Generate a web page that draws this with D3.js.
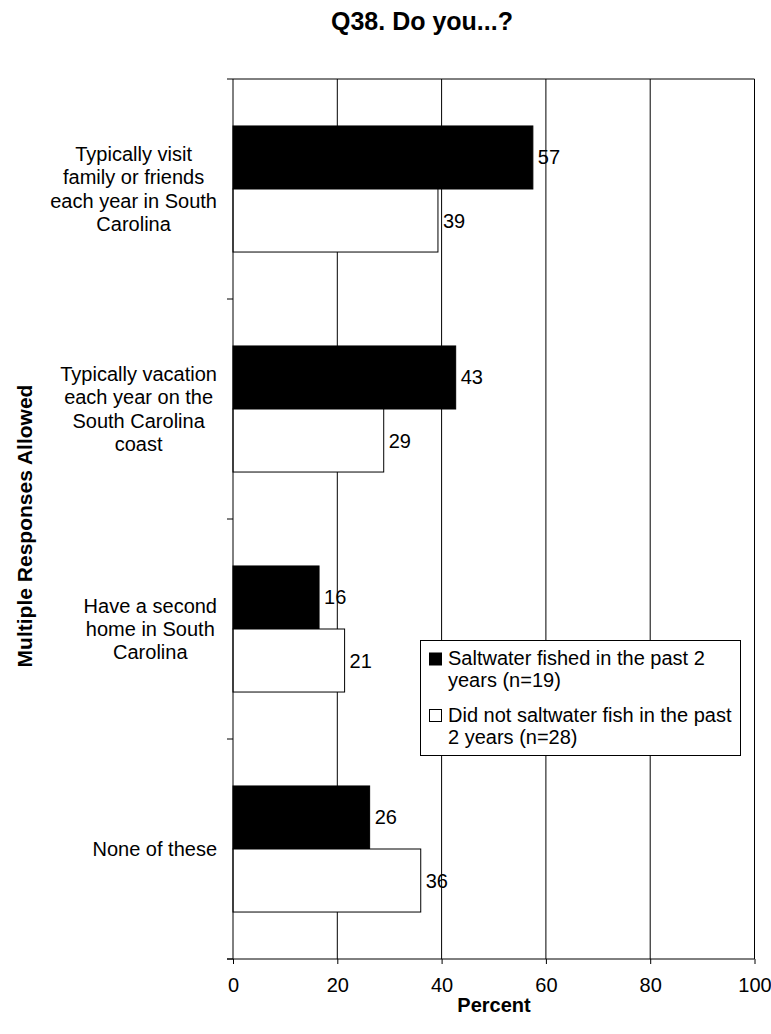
<!DOCTYPE html>
<html>
<head>
<meta charset="utf-8">
<script src="https://cdn.jsdelivr.net/npm/d3@7"></script>
<style>
  html, body { margin: 0; padding: 0; background: #fff; }
  svg text { font-family: "Liberation Sans", Arial, sans-serif; fill: #000; }
</style>
</head>
<body>
<svg id="chart" width="771" height="1034"></svg>
<script>
const categories = [
  ["Typically visit", "family or friends", "each year in South", "Carolina"],
  ["Typically vacation", "each year on the", "South Carolina", "coast"],
  ["Have a second", "home in South", "Carolina"],
  ["None of these"]
];
const seriesNames = [
  "Saltwater fished in the past 2 years (n=19)",
  "Did not saltwater fish in the past 2 years (n=28)"
];
const saltwaterFished = [57.5, 42.7, 16.5, 26.2];
const didNotFish = [39.3, 28.9, 21.4, 36.0];
const valueLabels = [[57, 43, 16, 26], [39, 29, 21, 36]];
const xTicks = [0, 20, 40, 60, 80, 100];
const title = "Q38. Do you...?";
const xTitle = "Percent";
const yTitle = "Multiple Responses Allowed";

(function () {
const svg = d3.select("#chart");
const pL = 233, pR = 754.5, pT = 79, pB = 959;
const FS = 20;

const x = d3.scaleLinear().domain([0, 100]).range([pL, pR]);
const catIdx = d3.range(categories.length);
const y = d3.scaleBand().domain(catIdx).range([pT, pB]).paddingInner(0.427).paddingOuter(0.2135);
const ySeries = d3.scaleBand().domain([0, 1]).range([0, y.bandwidth()]);
const series = [saltwaterFished, didNotFish];
const fills = ["#000", "#fff"];

// gridlines
svg.append("g").selectAll("line").data(xTicks.slice(1)).join("line")
  .attr("x1", d => x(d)).attr("x2", d => x(d))
  .attr("y1", pT).attr("y2", pB)
  .attr("stroke", "#000").attr("stroke-width", 1);
// top border
svg.append("line").attr("x1", pL).attr("x2", pR).attr("y1", pT).attr("y2", pT)
  .attr("stroke", "#000").attr("stroke-width", 1);

// bars
series.forEach((vals, s) => {
  svg.append("g").selectAll("rect").data(vals).join("rect")
    .attr("x", x(0))
    .attr("y", (d, i) => y(i) + ySeries(s))
    .attr("width", d => x(d) - x(0))
    .attr("height", ySeries.bandwidth())
    .attr("fill", fills[s]).attr("stroke", "#000").attr("stroke-width", 1);
  svg.append("g").selectAll("text").data(vals).join("text")
    .attr("x", d => x(d) + 5)
    .attr("y", (d, i) => y(i) + ySeries(s) + ySeries.bandwidth() / 2)
    .attr("dy", "0.35em")
    .attr("font-size", FS)
    .text((d, i) => valueLabels[s][i]);
});

// x axis
const xAxis = svg.append("g").attr("transform", `translate(0,${pB})`)
  .call(d3.axisBottom(x).tickValues(xTicks).tickSize(5).tickPadding(14).tickFormat(d3.format("d")));
xAxis.select(".domain").remove();
xAxis.selectAll("line").attr("stroke", "#000");
xAxis.selectAll("text").attr("font-size", FS).attr("font-family", "Liberation Sans, Arial, sans-serif");
svg.append("line").attr("x1", pL - 6).attr("x2", pR).attr("y1", pB).attr("y2", pB)
  .attr("stroke", "#000").attr("stroke-width", 1);

// y axis line and ticks at band boundaries
const boundaries = d3.range(categories.length + 1).map(i => pT + i * (pB - pT) / categories.length);
svg.append("line").attr("x1", pL).attr("x2", pL).attr("y1", pT).attr("y2", pB)
  .attr("stroke", "#000").attr("stroke-width", 1);
svg.append("g").selectAll("line").data(boundaries).join("line")
  .attr("x1", pL - 6).attr("x2", pL).attr("y1", d => d).attr("y2", d => d)
  .attr("stroke", "#000");

// category labels: block right-aligned, lines centered
const labelRight = 217, lineH = 23.3;
const measure = svg.append("text").attr("font-size", FS).attr("visibility", "hidden");
categories.forEach((lines, i) => {
  let maxW = 0;
  lines.forEach(l => { measure.text(l); maxW = Math.max(maxW, measure.node().getComputedTextLength()); });
  const cx = labelRight - maxW / 2;
  const cy = y(i) + y.bandwidth() / 2;
  const t = svg.append("text").attr("font-size", FS).attr("text-anchor", "middle");
  lines.forEach((l, j) => {
    t.append("tspan").attr("x", cx)
      .attr("y", cy + (j - (lines.length - 1) / 2) * lineH)
      .attr("dy", "0.35em").text(l);
  });
});
measure.remove();

// titles
svg.append("text").attr("x", 422).attr("y", 30).attr("text-anchor", "middle")
  .attr("font-size", 25).attr("font-weight", "bold").text(title);
svg.append("text").attr("x", 494).attr("y", 1012).attr("text-anchor", "middle")
  .attr("font-size", 20).attr("font-weight", "bold").text(xTitle);
svg.append("text").attr("transform", `translate(32,526) rotate(-90)`)
  .attr("text-anchor", "middle").attr("font-size", 21).attr("font-weight", "bold").text(yTitle);

// legend
const lg = svg.append("g").attr("transform", "translate(420.5,640.5)");
lg.append("rect").attr("width", 320).attr("height", 115).attr("fill", "#fff").attr("stroke", "#000");
const legendLines = [["Saltwater fished in the past 2", "years (n=19)"], ["Did not saltwater fish in the past", "2 years (n=28)"]];
legendLines.forEach((lines, s) => {
  const baseY = 24.5 + s * 56.5;
  lg.append("rect").attr("x", 9).attr("y", baseY - 12).attr("width", 12).attr("height", 12)
    .attr("fill", fills[s]).attr("stroke", "#000");
  const t = lg.append("text").attr("font-size", FS);
  lines.forEach((l, j) => t.append("tspan").attr("x", 27.5).attr("y", baseY + j * 22).text(l));
});
})();
</script>
</body>
</html>
